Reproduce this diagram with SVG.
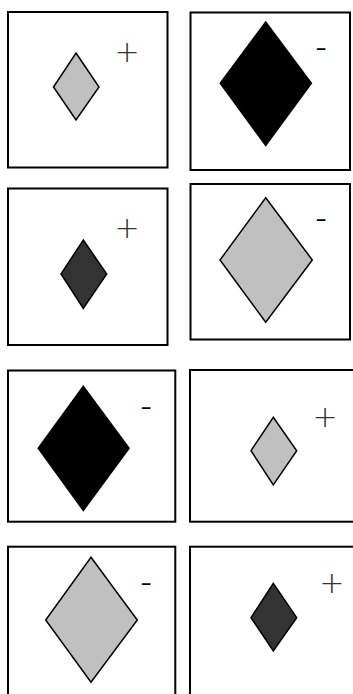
<svg xmlns="http://www.w3.org/2000/svg" width="353" height="694" viewBox="0 0 353 694">
<style>
.box{fill:#fff;stroke:#000;stroke-width:2}
.d{stroke:#000;stroke-width:1.5;stroke-linejoin:miter}
.lg{fill:#c0c0c0}
.dk{fill:#333}
.bk{fill:#000;stroke:none}
.plus{font-family:"DejaVu Sans",sans-serif;font-weight:200;font-size:30px;fill:#333;text-anchor:middle}
.minus{font-family:"Liberation Sans",Arial,sans-serif;font-size:22px;fill:#000;text-anchor:middle}
</style>
<rect width="353" height="694" fill="#fff"/>
<g id="panel1">
<rect class="box" x="8" y="12" width="159.5" height="155.5"/>
<polygon class="d lg" points="76,53 99,87 76,120 53.5,87"/>
<text class="plus" x="127" y="62">+</text>
</g>
<g id="panel2">
<rect class="box" x="190.5" y="12.5" width="159.5" height="157.5"/>
<polygon class="d bk" points="265.7,20.7 312.3,83.3 265.7,146.7 219.3,83.3"/>
<text class="minus" transform="translate(321,55) scale(1.6,1)" x="0" y="0">-</text>
</g>
<g id="panel3">
<rect class="box" x="8" y="188.5" width="159.5" height="156.5"/>
<polygon class="d dk" points="83.3,240 106.7,274 83.3,308.3 61,274"/>
<text class="plus" x="127" y="238">+</text>
</g>
<g id="panel4">
<rect class="box" x="190.5" y="184" width="159.5" height="155.5"/>
<polygon class="d lg" points="265.7,197.7 312.3,260 265.7,322.3 220,260"/>
<text class="minus" transform="translate(321,225.5) scale(1.6,1)" x="0" y="0">-</text>
</g>
<g id="panel5">
<rect class="box" x="8" y="370.5" width="167.3" height="151.2"/>
<polygon class="d bk" points="83.3,385 130,448.3 83.3,511.7 37.3,448.3"/>
<text class="minus" transform="translate(146,414) scale(1.6,1)" x="0" y="0">-</text>
</g>
<g id="panel6">
<rect class="box" x="190" y="370" width="175" height="151.7"/>
<polygon class="d lg" points="273.3,417.3 296.7,450.7 273.3,485 251,450.7"/>
<text class="plus" x="325" y="427">+</text>
</g>
<g id="panel7">
<rect class="box" x="8" y="546.7" width="167.3" height="160"/>
<polygon class="d lg" points="91,557.3 137.3,620 91,682.3 45.7,620"/>
<text class="minus" transform="translate(146,590) scale(1.6,1)" x="0" y="0">-</text>
</g>
<g id="panel8">
<rect class="box" x="190" y="546.7" width="175" height="160"/>
<polygon class="d dk" points="273.3,583.3 296.7,617.7 273.3,651 251,617.7"/>
<text class="plus" x="331.7" y="592.5">+</text>
</g>
</svg>
